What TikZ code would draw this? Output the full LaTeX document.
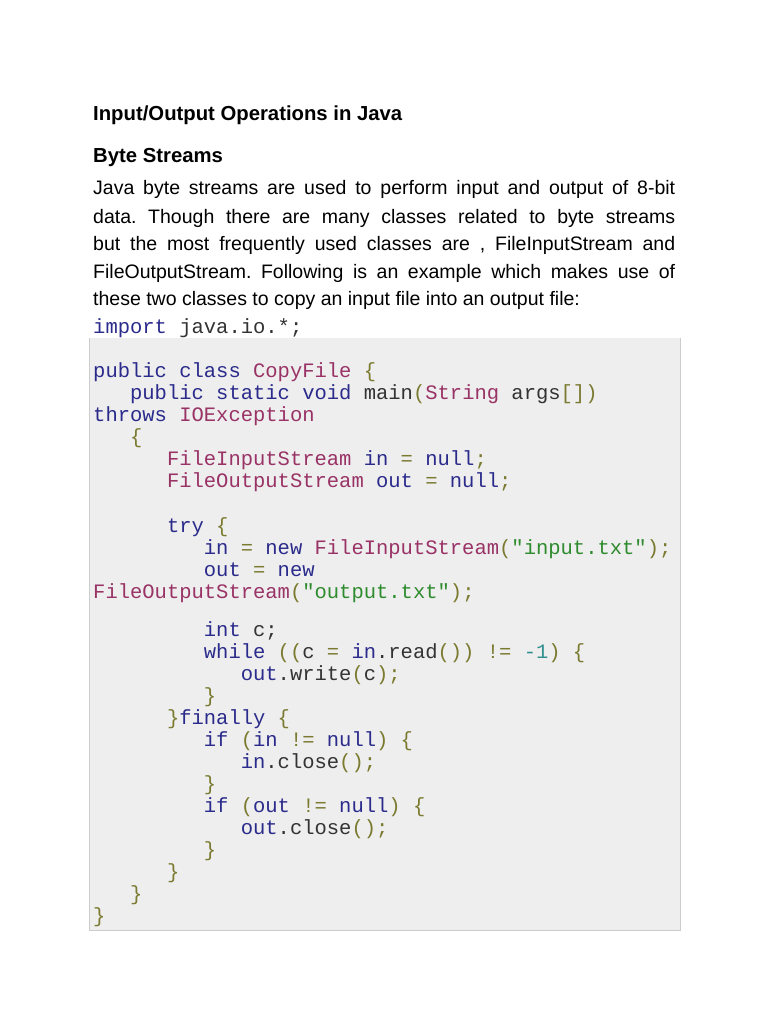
\documentclass[tikz,border=0pt]{standalone}
\usepackage{fontspec}
\setmainfont{Liberation Sans}
\setmonofont{Liberation Mono}
\frenchspacing
\definecolor{kw}{HTML}{2B2B8C}
\definecolor{cl}{HTML}{993366}
\definecolor{pu}{HTML}{7A7A30}
\definecolor{st}{HTML}{2E8B2E}
\definecolor{nm}{HTML}{2F8F8F}
\definecolor{tx}{HTML}{333333}
\definecolor{codebg}{HTML}{EEEEEE}
\newcommand{\cK}[1]{\textcolor{kw}{#1}}
\newcommand{\cC}[1]{\textcolor{cl}{#1}}
\newcommand{\cP}[1]{\textcolor{pu}{#1}}
\newcommand{\cS}[1]{\textcolor{st}{#1}}
\newcommand{\cN}[1]{\textcolor{nm}{#1}}
\newcommand{\cT}[1]{\textcolor{tx}{#1}}
\begin{document}
\begin{tikzpicture}[x=1pt,y=-1pt,
  para/.style={anchor=base west,inner sep=0pt,font=\fontsize{19.5}{22}\selectfont},
  hd/.style={anchor=base west,inner sep=0pt,font=\fontsize{20.3}{22}\selectfont\bfseries},
  code/.style={anchor=base west,inner sep=0pt,font=\fontsize{20.5}{22}\selectfont\ttfamily}]
\useasboundingbox[fill=white] (0,0) rectangle (768,1024);
\fill[codebg] (89,338) rectangle (680,930);
\draw[gray!40] (89,338) -- (89,930) -- (680,930) -- (680,338);
\node[hd] (title) at (93,121) {Input/Output Operations in Java};
\node[hd] (sub) at (93,163) {Byte Streams};
\node[para] (p1) at (93,195) {\makebox[582pt][s]{Java byte streams are used to perform input and output of 8-bit}};
\node[para] (p2) at (93,223) {\makebox[582pt][s]{data. Though there are many classes related to byte streams}};
\node[para] (p3) at (93,250) {\makebox[582pt][s]{but the most frequently used classes are , FileInputStream and}};
\node[para] (p4) at (93,278) {\makebox[582pt][s]{FileOutputStream. Following is an example which makes use of}};
\node[para] (p5) at (93,305) {these two classes to copy an input file into an output file:};
\def\cx#1{93+#1*12.3}
\node[code] (l1) at (\cx{0},333) {\cK{import}\ \cT{java.io.*;}};
\node[code] (l2) at (\cx{0},377) {\cK{public}\ \cK{class}\ \cC{CopyFile}\ \cP{\{}};
\node[code] (l3) at (\cx{3},399) {\cK{public}\ \cK{static}\ \cK{void}\ \cT{main}\cP{(}\cC{String}\ \cT{args}\cP{[])}};
\node[code] (l4) at (\cx{0},421) {\cK{throws}\ \cC{IOException}};
\node[code] (l5) at (\cx{3},443) {\cP{\{}};
\node[code] (l6) at (\cx{6},465) {\cC{FileInputStream}\ \cK{in}\ \cP{=}\ \cK{null}\cP{;}};
\node[code] (l7) at (\cx{6},487) {\cC{FileOutputStream}\ \cK{out}\ \cP{=}\ \cK{null}\cP{;}};
\node[code] (l8) at (\cx{6},532) {\cK{try}\ \cP{\{}};
\node[code] (l9) at (\cx{9},554) {\cK{in}\ \cP{=}\ \cK{new}\ \cC{FileInputStream}\cP{(}\cS{"input.txt"}\cP{);}};
\node[code] (l10) at (\cx{9},576) {\cK{out}\ \cP{=}\ \cK{new}};
\node[code] (l11) at (\cx{0},598) {\cC{FileOutputStream}\cP{(}\cS{"output.txt"}\cP{);}};
\node[code] (l12) at (\cx{9},636) {\cK{int}\ \cT{c;}};
\node[code] (l13) at (\cx{9},658) {\cK{while}\ \cP{((}\cT{c}\ \cP{=}\ \cK{in}\cT{.read}\cP{())}\ \cP{!=}\ \cN{-1}\cP{)}\ \cP{\{}};
\node[code] (l14) at (\cx{12},680) {\cK{out}\cT{.write}\cP{(}\cT{c}\cP{);}};
\node[code] (l15) at (\cx{9},702) {\cP{\}}};
\node[code] (l16) at (\cx{6},724) {\cP{\}}\cK{finally}\ \cP{\{}};
\node[code] (l17) at (\cx{9},746) {\cK{if}\ \cP{(}\cK{in}\ \cP{!=}\ \cK{null}\cP{)}\ \cP{\{}};
\node[code] (l18) at (\cx{12},768) {\cK{in}\cT{.close}\cP{();}};
\node[code] (l19) at (\cx{9},790) {\cP{\}}};
\node[code] (l20) at (\cx{9},812) {\cK{if}\ \cP{(}\cK{out}\ \cP{!=}\ \cK{null}\cP{)}\ \cP{\{}};
\node[code] (l21) at (\cx{12},834) {\cK{out}\cT{.close}\cP{();}};
\node[code] (l22) at (\cx{9},856) {\cP{\}}};
\node[code] (l23) at (\cx{6},878) {\cP{\}}};
\node[code] (l24) at (\cx{3},900) {\cP{\}}};
\node[code] (l25) at (\cx{0},922) {\cP{\}}};
\end{tikzpicture}
\end{document}
